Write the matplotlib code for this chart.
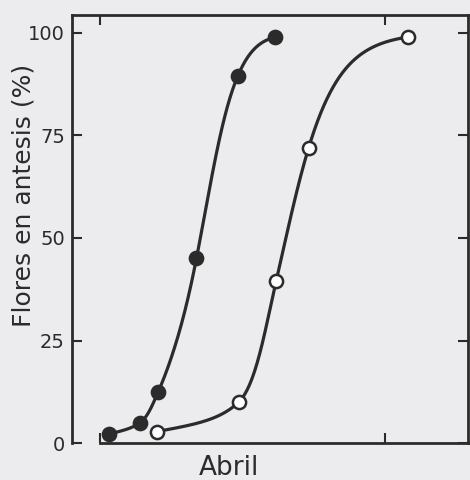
import numpy as np
import matplotlib
matplotlib.use("Agg")
from matplotlib import pyplot as plt

# Flowering data (days in April vs % of flowers in anthesis)
filled_days = [1.9, 5.1, 6.9, 10.8, 15.0, 18.8]
filled_pct = [2.2, 5.0, 12.4, 45.0, 89.5, 99.0]
open_days = [6.8, 15.1, 18.9, 22.2, 32.3]
open_pct = [2.8, 10.0, 39.5, 72.0, 99.0]
y_ticks = [0, 25, 50, 75, 100]
x_ticks = [1, 30]

BG = "#ececee"
INK = "#2b2b2b"


def hermite(x, y, xs):
    # Fritsch-Carlson monotone cubic
    h = np.diff(x)
    d = np.diff(y) / h
    m = np.zeros_like(x)
    m[0], m[-1] = d[0], d[-1]
    for k in range(1, len(x) - 1):
        if d[k - 1] * d[k] > 0:
            w1 = 2 * h[k] + h[k - 1]
            w2 = h[k] + 2 * h[k - 1]
            m[k] = (w1 + w2) / (w1 / d[k - 1] + w2 / d[k])
    idx = np.clip(np.searchsorted(x, xs) - 1, 0, len(x) - 2)
    t = (xs - x[idx]) / h[idx]
    return ((2 * t**3 - 3 * t**2 + 1) * y[idx] + (t**3 - 2 * t**2 + t) * h[idx] * m[idx]
            + (-2 * t**3 + 3 * t**2) * y[idx + 1] + (t**3 - t**2) * h[idx] * m[idx + 1])


def sigmoid_curve(x, y, n=400):
    # interpolate in logit space so the drawn line keeps the S shape
    x = np.asarray(x, float)
    p = np.asarray(y, float) / 100.0
    z = np.log(p / (1 - p))
    xs = np.linspace(x[0], x[-1], n)
    zs = hermite(x, z, xs)
    return xs, 100.0 / (1.0 + np.exp(-zs))


fig = plt.figure(figsize=(4.7, 4.8), dpi=100, facecolor=BG)
ax = fig.add_axes([0.153, 0.077, 0.843, 0.892], facecolor=BG)

for xd, yd, face in [(filled_days, filled_pct, INK), (open_days, open_pct, "white")]:
    cx, cy = sigmoid_curve(xd, yd)
    ax.plot(cx, cy, color=INK, lw=2.3, solid_capstyle="round", zorder=2)
    ax.plot(xd, yd, "o", ms=9.5, mfc=face, mec=INK, mew=1.8, zorder=3)

ax.set_xlim(-1.85, 38.4)
ax.set_ylim(0, 104.4)
ax.set_yticks(y_ticks)
ax.set_xticks(x_ticks)
ax.set_xticklabels([])

ax.tick_params(axis="both", direction="in", length=7, width=1.5, color=INK,
               top=True, right=True, labelsize=14, labelcolor=INK, pad=5)

for side in ["left", "right", "top", "bottom"]:
    ax.spines[side].set_color(INK)
    ax.spines[side].set_linewidth(2.0)
ax.spines["bottom"].set_bounds(1, 38.4)

ax.set_ylabel("Flores en antesis (%)", fontsize=18, color=INK)
ax.yaxis.set_label_coords(-0.091, 0.579)
ax.set_xlabel("Abril", fontsize=19, color=INK)
ax.xaxis.set_label_coords(0.396, -0.028)

fig.savefig("out.png", dpi=100, facecolor=BG)
